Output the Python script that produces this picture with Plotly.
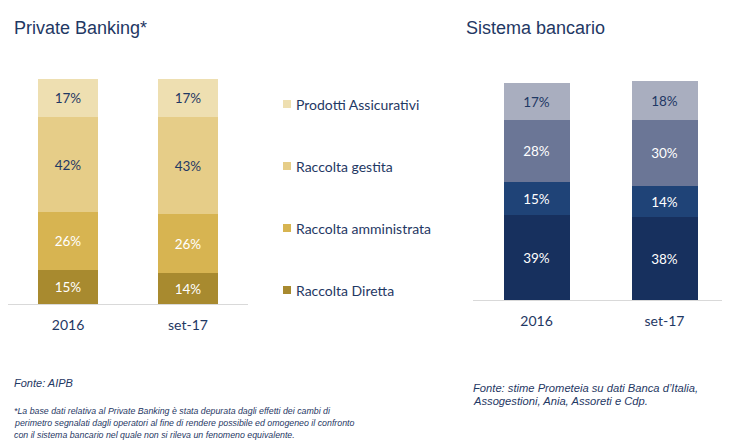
import plotly.graph_objects as go

periods = ["2016", "set-17"]

pb_series = ["Raccolta Diretta", "Raccolta amministrata", "Raccolta gestita", "Prodotti Assicurativi"]
pb_values = {
    "Raccolta Diretta": [15, 14],
    "Raccolta amministrata": [26, 26],
    "Raccolta gestita": [42, 43],
    "Prodotti Assicurativi": [17, 17],
}
pb_colors = ["#A88A2F", "#D7B451", "#E6CD88", "#EEDFB1"]
pb_text_colors = ["white", "white", "#1F3864", "#1F3864"]

sb_series = ["s1", "s2", "s3", "s4"]
sb_values = {
    "s1": [39, 38],
    "s2": [15, 14],
    "s3": [28, 30],
    "s4": [17, 18],
}
sb_colors = ["#17305E", "#1F4377", "#6B7696", "#A9AEBF"]
sb_text_colors = ["white", "white", "white", "#1F3864"]

NAVY = "#1F3864"
LABEL_FONT = "Lato"

fig = go.Figure()

for name, col, tcol in zip(pb_series, pb_colors, pb_text_colors):
    vals = pb_values[name]
    fig.add_trace(go.Bar(
        x=periods, y=vals, name=name, marker=dict(color=col, line=dict(width=0)),
        text=[f"{v}%" for v in vals], textposition="inside", insidetextanchor="middle",
        textfont=dict(family=LABEL_FONT, size=13.5, color=tcol), width=0.5,
        xaxis="x", yaxis="y", showlegend=False, hoverinfo="skip",
    ))

for name, col, tcol in zip(sb_series, sb_colors, sb_text_colors):
    vals = sb_values[name]
    fig.add_trace(go.Bar(
        x=periods, y=vals, name=name, marker=dict(color=col, line=dict(width=0)),
        text=[f"{v}%" for v in vals], textposition="inside", insidetextanchor="middle",
        textfont=dict(family=LABEL_FONT, size=13.5, color=tcol), width=0.51,
        xaxis="x2", yaxis="y2", showlegend=False, hoverinfo="skip",
    ))

W, H = 730, 448
OFF = 8  # page body margin

def px_x(p):
    return (p - OFF) / W

def px_y(p):
    return 1 - (p - OFF) / H

axis_common = dict(showgrid=False, zeroline=False, ticks="", showline=True,
                   linecolor="#D9D9D9", linewidth=1, ticklabelstandoff=8,
                   tickfont=dict(family=LABEL_FONT, size=14, color=NAVY))

fig.update_layout(
    width=W, height=H, margin=dict(l=0, r=0, t=0, b=0),
    paper_bgcolor="white", plot_bgcolor="white",
    barmode="stack", bargap=0,
    xaxis=dict(domain=[max(0, px_x(8)), px_x(248)], anchor="y", **axis_common),
    yaxis=dict(domain=[px_y(304), px_y(79)], range=[0, 100], visible=False, anchor="x"),
    xaxis2=dict(domain=[px_x(472.5), px_x(728.5)], anchor="y2", **axis_common),
    yaxis2=dict(domain=[px_y(300), px_y(81)], range=[0, 100], visible=False, anchor="x2"),
    showlegend=False,
)

annotations = []
shapes = []

# Titles
annotations.append(dict(text="Private Banking*", x=px_x(12), y=px_y(28), xref="paper", yref="paper",
                        xanchor="left", yanchor="middle", showarrow=False,
                        font=dict(family="Liberation Sans", size=18, color=NAVY)))
annotations.append(dict(text="Sistema bancario", x=px_x(464), y=px_y(28), xref="paper", yref="paper",
                        xanchor="left", yanchor="middle", showarrow=False,
                        font=dict(family="Liberation Sans", size=18, color=NAVY)))

# Legend (manual)
leg_y = [104, 166, 228, 290]
leg_items = list(reversed(pb_series))
leg_cols = list(reversed(pb_colors))
for yy, name, col in zip(leg_y, leg_items, leg_cols):
    shapes.append(dict(type="rect", xref="paper", yref="paper",
                       x0=px_x(283), x1=px_x(291), y0=px_y(yy - 4), y1=px_y(yy + 4),
                       fillcolor=col, line=dict(width=0)))
    annotations.append(dict(text=name, x=px_x(294), y=px_y(yy), xref="paper", yref="paper",
                            xanchor="left", yanchor="middle", showarrow=False,
                            font=dict(family=LABEL_FONT, size=14, color=NAVY)))

# Footnotes
annotations.append(dict(text="<i>Fonte: AIPB</i>", x=px_x(12), y=px_y(383), xref="paper", yref="paper",
                        xanchor="left", yanchor="middle", showarrow=False,
                        font=dict(family="Liberation Sans", size=11, color=NAVY)))
foot_lines = [
    "*La base dati relativa al Private Banking è stata depurata dagli effetti dei cambi di",
    "perimetro segnalati dagli operatori al fine di rendere possibile ed omogeneo il confronto",
    "con il sistema bancario nel quale non si rileva un fenomeno equivalente.",
]
for yy, line in zip([411, 423, 435], foot_lines):
    annotations.append(dict(text=f"<i>{line}</i>", x=px_x(12), y=px_y(yy), xref="paper", yref="paper",
                            xanchor="left", yanchor="middle", showarrow=False,
                            font=dict(family="Liberation Sans", size=8.8, color=NAVY)))
right_lines = [
    "Fonte: stime Prometeia su dati Banca d’Italia,",
    "Assogestioni, Ania, Assoreti e Cdp.",
]
for yy, line in zip([388, 401], right_lines):
    annotations.append(dict(text=f"<i>{line}</i>", x=px_x(471), y=px_y(yy), xref="paper", yref="paper",
                            xanchor="left", yanchor="middle", showarrow=False,
                            font=dict(family="Liberation Sans", size=11.2, color=NAVY)))

fig.update_layout(annotations=annotations, shapes=shapes)

fig.write_html("out.html")
